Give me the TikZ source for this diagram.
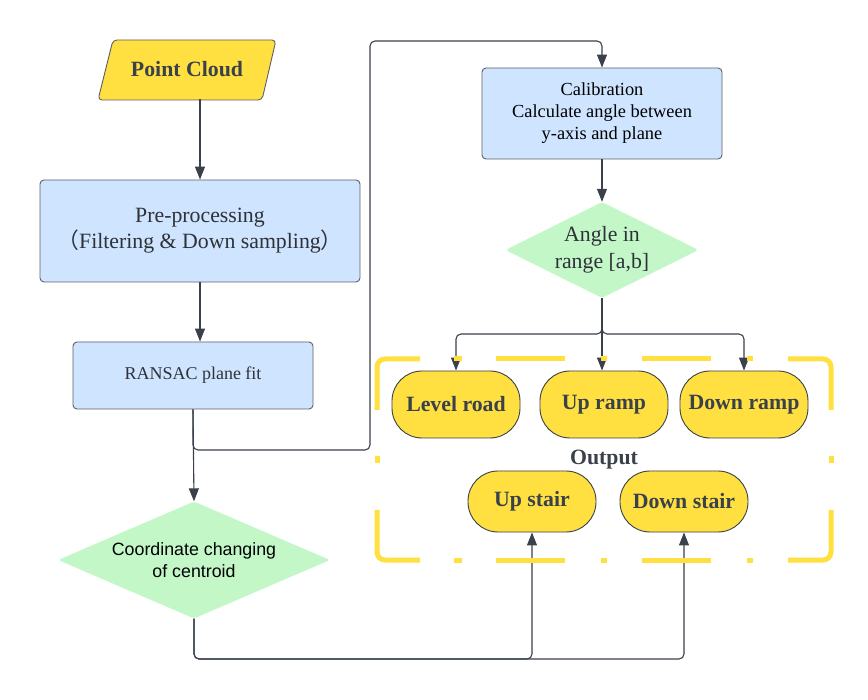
\documentclass[tikz,border=0pt]{standalone}
\usepackage{fontspec}
\setmainfont{Liberation Serif}
\setsansfont{Liberation Sans}
\newfontfamily\cjk{Noto Sans CJK SC}
\usetikzlibrary{shapes.geometric,arrows.meta}
\definecolor{ylw}{HTML}{FFE040}
\definecolor{blu}{HTML}{CFE4FF}
\definecolor{grn}{HTML}{C3F7C8}
\definecolor{lc}{HTML}{3A414A}
\definecolor{bd}{HTML}{5E6066}
\definecolor{tx}{HTML}{2E3238}
\tikzset{
  box/.style={draw=bd, line width=0.9pt, fill=blu, rounded corners=4pt, align=center, text=tx, inner sep=0pt},
  term/.style={draw=lc, line width=0.9pt, fill=ylw, rounded corners=30pt, minimum width=128pt, align=center, text=lc, font=\fontsize{21.8}{26}\selectfont\bfseries, inner sep=0pt},
  dec/.style={diamond, fill=grn, rounded corners=3pt, align=center, text=tx, inner sep=0pt},
  arr/.style={draw=lc, line width=1.1pt, -{Triangle[length=13pt,width=10pt]}},
  frame/.style={draw=ylw, line width=5pt},
}
\begin{document}
\begin{tikzpicture}[x=1pt,y=-1pt]
\useasboundingbox (0,0) rectangle (868,700);
\fill[white] (0,0) rectangle (868,700);

% Point Cloud parallelogram
\draw[draw=bd, line width=0.9pt, fill=ylw, rounded corners=4pt] (113,40) -- (276,40) -- (262,100) -- (98,100) -- cycle;
\node[minimum width=178pt, minimum height=60pt, inner sep=0pt, text=lc, font=\fontsize{21.8}{26}\selectfont\bfseries] (pc) at (187,69) {Point Cloud};

\node[box, minimum width=320pt, minimum height=102pt, font=\fontsize{21.8}{26}\selectfont] (pre) at (200,231)
  {Pre-processing\\{\cjk（}Filtering \& Down sampling{\cjk）}};
\node[box, minimum width=240pt, minimum height=67pt, font=\fontsize{18}{22}\selectfont] (ran) at (193,375.5) {RANSAC plane fit};
\node[dec, aspect=2.32, minimum width=272pt, minimum height=117pt, font=\sffamily\fontsize{17.8}{22}\selectfont, text=black] (cc) at (194,560)
  {Coordinate changing\\of centroid};
\node[box, minimum width=240pt, minimum height=91pt, font=\fontsize{18.4}{22}\selectfont, text=black] (cal) at (602,113.5)
  {Calibration\\Calculate angle between\\y-axis and plane};
\node[dec, aspect=2.0, minimum width=193pt, minimum height=96pt, font=\fontsize{21.8}{27}\selectfont] (ang) at (602,250)
  {Angle in\\range [a,b]};

\node[term, minimum height=67pt] (lev) at (456,404.5) {Level road};
\node[term, minimum height=67pt] (upr) at (604,404.5) {Up ramp};
\node[term, minimum height=67pt] (dnr) at (744,404.5) {Down ramp};
\node[term, minimum height=61pt] (ups) at (532,501.5) {Up stair};
\node[term, minimum height=61pt] (dns) at (684,501.5) {Down stair};
\node[text=lc, font=\fontsize{21.8}{26}\selectfont\bfseries, inner sep=0pt] (out) at (604,460) {Output};

% connectors
\draw[arr] (pc.south -| pre.north) -- (pre.north);
\draw[arr] (pre.south) -- (pre.south |- ran.north);
\draw[arr] (ran.south) -- (cc.north);
\coordinate (b1) at (370,450);
\coordinate (b2) at (370,41);
\draw[arr, rounded corners=5pt] (ran.south) |- (b1) -- (b2) -| (cal.north);
\draw[arr] (cal.south) -- (ang.north);
\coordinate (jy) at (602,334);
\draw[arr, rounded corners=5pt] (ang.south) -- (jy) -| (lev.north);
\draw[arr, rounded corners=5pt] (ang.south) -- (jy) -| (dnr.north);
\draw[arr] (ang.south) -- (ang.south |- upr.north);
\coordinate (jb) at (194,659);
\draw[arr, rounded corners=5pt] (cc.south) |- (ups.south |- jb) -- (ups.south);
\draw[arr, rounded corners=5pt] (cc.south) |- (dns.south |- jb) -- (dns.south);

% dashed output frame
\draw[frame, rounded corners=8pt] (377,410) -- (377,359) -- (420,359);
\draw[frame, rounded corners=8pt] (788,359) -- (831,359) -- (831,410);
\draw[frame, rounded corners=8pt] (831,510) -- (831,560) -- (788,560);
\draw[frame, rounded corners=8pt] (420,560) -- (377,560) -- (377,510);
\foreach \a/\b in {454/462, 496/565, 601/607, 642/711, 747/753} {
  \draw[frame] (\a,359) -- (\b,359);
  \draw[frame] (\a,560) -- (\b,560);
}
\draw[frame] (377,456) -- (377,463);
\draw[frame] (831,456) -- (831,463);
\end{tikzpicture}
\end{document}
